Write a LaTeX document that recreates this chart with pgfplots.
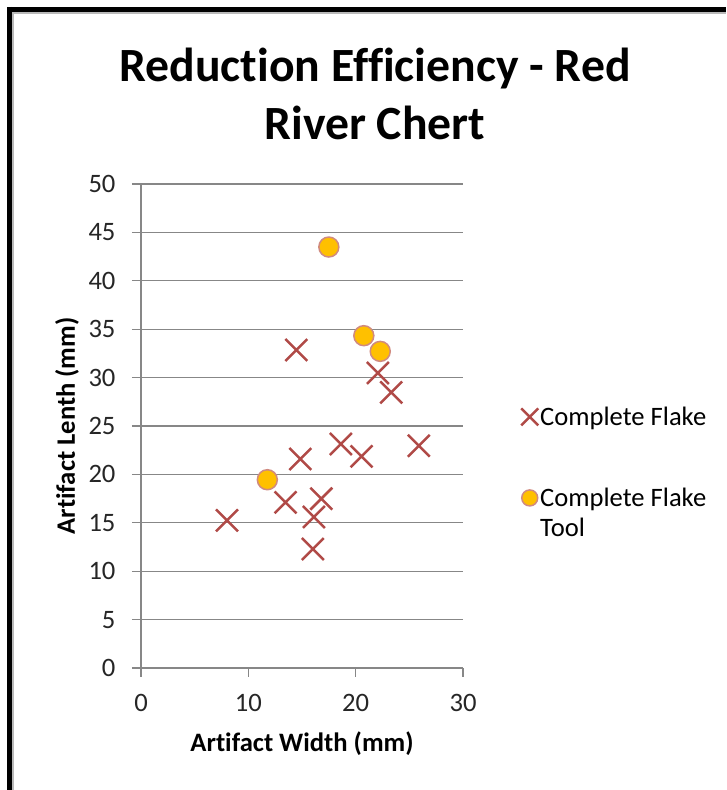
\documentclass[border=0pt]{standalone}
\usepackage{pgfplots}
\pgfplotsset{compat=1.18}
\usepackage{fontspec}
\setmainfont{Carlito}[Ligatures=NoCommon]
\definecolor{flake}{HTML}{B04A47}
\definecolor{tool}{HTML}{FFC000}
\definecolor{toolborder}{HTML}{D08A80}
\definecolor{gridc}{HTML}{878787}
\begin{document}
\begin{tikzpicture}[x=1pt,y=1pt]
\path[use as bounding box] (0,0) rectangle (726,790);
\draw[line width=5pt] (7,780.5) -- (726,780.5);
\draw[line width=4.5pt] (9.5,783) -- (9.5,0);
\draw[gray!55, line width=2pt] (12.8,0) -- (12.8,776.5) -- (726,776.5);
\node[font=\bfseries\fontsize{47.7}{58}\selectfont, align=center] at (375,696) {Reduction Efficiency - Red\\River Chert};
\begin{axis}[
  at={(141pt,122pt)}, anchor=south west,
  scale only axis, width=322pt, height=484pt,
  xmin=0, xmax=30, ymin=0, ymax=50,
  xtick={0,10,20,30}, ytick={0,5,...,50},
  axis x line*=bottom, axis y line*=left,
  tick align=outside, major tick length=9pt,
  ymajorgrids,
  tick style={gridc, line width=1.3pt},
  axis line style={gridc, line width=1.3pt},
  major grid style={gridc, line width=1.3pt},
  ticklabel style={font=\fontsize{26.6}{32}\selectfont, text=black!85},
  yticklabel style={xshift=-13pt},
  xticklabel style={yshift=-14pt},
  /pgf/number format/assume math mode=true,
  xlabel={Artifact Width (mm)}, ylabel={Artifact Lenth (mm)},
  label style={font=\bfseries\fontsize{26.6}{32}\selectfont},
  xlabel style={at={(axis description cs:0.5,-0.157)}, anchor=center},
  ylabel style={at={(axis description cs:-0.2298,0.5)}, anchor=center},
  legend style={draw=none, fill=none, at={(1.171,0.548)}, anchor=north west,
    font=\fontsize{26.6}{30}\selectfont, row sep=57pt, cells={anchor=west, align=left}},
  legend cell align=left,
]
\addplot[only marks, mark=x, mark size=15.5pt, mark options={draw=flake, line width=2.5pt},
  legend image code/.code={\draw[mark repeat=2,mark phase=2,mark size=12pt] plot coordinates {(0pt,0pt)(4pt,0pt)(8pt,0pt)};}] coordinates {
(8.01,15.25) (14.47,32.85) (14.84,21.59) (13.47,17.11) (16.11,15.60) (16.01,12.29)
(16.80,17.49) (18.62,23.14) (20.55,21.86) (25.88,22.96) (22.07,30.48) (23.31,28.47)
};
\addlegendentry{Complete Flake}
\addplot[only marks, mark=*, mark size=10pt, mark options={fill=tool, draw=toolborder, line width=1.5pt},
  legend image code/.code={\draw[mark repeat=2,mark phase=2,mark size=8pt] plot coordinates {(0pt,15pt)(4pt,15pt)(8pt,15pt)};}] coordinates {
(17.50,43.49) (20.76,34.33) (22.29,32.71) (11.77,19.45)
};
\addlegendentry{Complete Flake\\Tool}
\end{axis}
\end{tikzpicture}
\end{document}
